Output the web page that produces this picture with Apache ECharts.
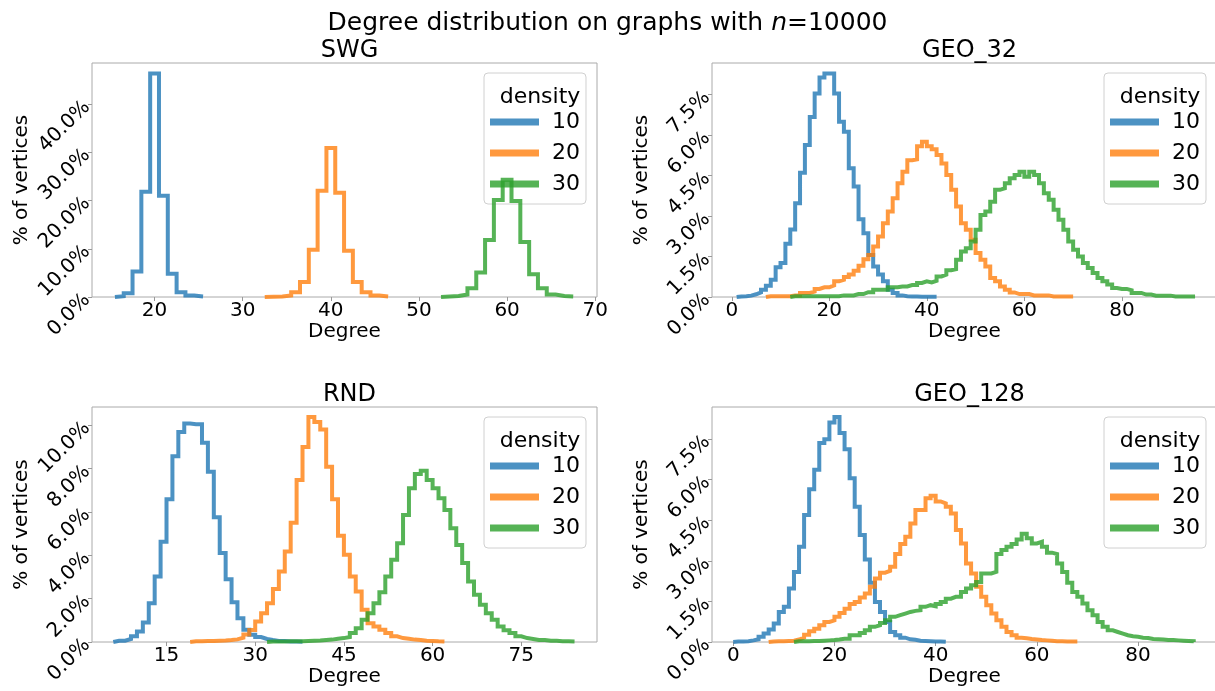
<!DOCTYPE html>
<html>
<head>
<meta charset="utf-8">
<script src="https://cdn.jsdelivr.net/npm/echarts@6/dist/echarts.min.js"></script>
<style>
  html, body { margin: 0; padding: 0; background: #fff; }
  #main { width: 1215px; height: 691px; }
</style>
</head>
<body>
<div id="main"></div>
<script>
const densities = ['10', '20', '30'];
const panelTitles = ['SWG', 'GEO_32', 'RND', 'GEO_128'];

// histogram values in % of vertices, one bin per degree; *Start = left edge of first bin
const swgStart = [15.5, 32.5, 52.5];
const swg10 = [0.15, 0.8, 5.3, 21.8, 46.3, 21.0, 4.8, 1.0, 0.3, 0.1];
const swg20 = [0.05, 0.1, 0.3, 1.0, 3.1, 9.8, 22.0, 30.9, 21.6, 9.6, 3.1, 1.0, 0.3, 0.1];
const swg30 = [0.1, 0.2, 0.5, 1.8, 5.1, 11.8, 20.1, 24.3, 19.9, 11.4, 4.7, 1.8, 0.5, 0.2, 0.1];

const geo32Start = [1, 7, 12];
const geo32_10 = [0.02, 0.03, 0.05, 0.1, 0.17, 0.27, 0.42, 0.64, 1.1, 1.26,
  1.97, 2.5, 3.47, 4.6, 5.63, 6.67, 7.54, 8.13, 8.28, 8.28,
  7.54, 6.49, 6.12, 4.77, 4.09, 2.88, 2.36, 1.56, 1.13, 0.83,
  0.58, 0.27, 0.15, 0.06, 0.03, 0.02, 0.02, 0.01, 0.01, 0.01, 0.01];
const geo32_20 = [0.03, 0.03, 0.03, 0.03, 0.03, 0.06, 0.06, 0.15, 0.15, 0.2,
  0.3, 0.36, 0.36, 0.43, 0.58, 0.64, 0.74, 0.83, 0.97, 1.16,
  1.4, 1.56, 1.87, 2.24, 2.73, 3.17, 3.66, 4.21, 4.64, 5.07,
  5.1, 5.59, 5.75, 5.59, 5.47, 5.26, 4.95, 4.52, 3.97, 3.35,
  2.73, 2.49, 2.12, 1.63, 1.38, 1.13, 0.7, 0.58, 0.39, 0.27,
  0.17, 0.11, 0.11, 0.11, 0.06, 0.06, 0.06, 0.06, 0.02, 0.02, 0.02, 0.02, 0.02];
const geo32_30 = [0.03, 0.03, 0.03, 0.03, 0.03, 0.03, 0.03, 0.03, 0.03, 0.03,
  0.06, 0.06, 0.06, 0.11, 0.11, 0.18, 0.18, 0.27, 0.27, 0.27,
  0.36, 0.36, 0.39, 0.39, 0.44, 0.44, 0.52, 0.58, 0.54, 0.6,
  0.76, 0.83, 0.99, 1.03, 1.38, 1.69, 1.81, 2.06, 2.49, 3.04,
  3.17, 3.53, 3.97, 4.03, 4.21, 4.4, 4.52, 4.64, 4.46, 4.64,
  4.52, 4.21, 3.84, 3.6, 3.23, 2.86, 2.49, 2.06, 1.75, 1.5,
  1.26, 1.07, 0.89, 0.7, 0.58, 0.46, 0.33, 0.3, 0.3, 0.25,
  0.15, 0.15, 0.09, 0.09, 0.05, 0.05, 0.05, 0.05, 0.02, 0.02, 0.02, 0.02, 0.02];

const rndStart = [6, 19, 32];
const rnd10 = [0.06, 0.06, 0.14, 0.26, 0.49, 0.9, 1.79, 3.02, 4.63, 6.58,
  8.57, 9.69, 10.08, 10.05, 10.05, 9.19, 7.85, 5.75, 4.1, 2.9,
  1.83, 1.1, 0.57, 0.34, 0.23, 0.14, 0.09, 0.05, 0.05, 0.02, 0.02, 0.01];
const rnd20 = [0.03, 0.04, 0.05, 0.05, 0.06, 0.07, 0.09, 0.12, 0.2, 0.35,
  0.55, 0.95, 1.33, 1.79, 2.44, 3.25, 4.17, 5.5, 7.47, 9.0,
  10.38, 10.15, 9.8, 8.08, 6.58, 4.9, 4.02, 3.02, 2.33, 1.49,
  0.87, 0.72, 0.57, 0.41, 0.26, 0.18, 0.15, 0.11, 0.09, 0.06, 0.05, 0.03, 0.02];
const rnd30 = [0.02, 0.02, 0.02, 0.03, 0.03, 0.04, 0.05, 0.06, 0.07, 0.09,
  0.11, 0.15, 0.18, 0.23, 0.41, 0.64, 1.03, 1.33, 1.79, 2.3,
  3.02, 3.79, 4.56, 5.86, 7.09, 7.75, 7.9, 7.47, 7.09, 6.63,
  6.09, 5.25, 4.48, 3.64, 2.79, 2.18, 1.72, 1.33, 1.03, 0.72,
  0.54, 0.41, 0.26, 0.18, 0.14, 0.09, 0.09, 0.06, 0.06, 0.04, 0.03, 0.02];

const geo128Start = [0, 7, 12];
const geo128_10 = [0.02, 0.02, 0.03, 0.06, 0.1, 0.19, 0.31, 0.46, 0.68, 1.11,
  1.3, 1.98, 2.59, 3.52, 4.69, 5.64, 6.36, 7.35, 7.49, 8.11,
  8.31, 7.72, 7.12, 6.05, 5.0, 3.95, 3.05, 2.19, 1.48, 1.11,
  0.74, 0.37, 0.25, 0.16, 0.1, 0.08, 0.05, 0.04, 0.03, 0.02, 0.02, 0.01];
const geo128_20 = [0.02, 0.03, 0.03, 0.04, 0.05, 0.09, 0.16, 0.27, 0.4, 0.49,
  0.62, 0.74, 0.8, 0.93, 1.07, 1.23, 1.4, 1.48, 1.64, 1.79,
  2.04, 2.35, 2.56, 2.63, 2.78, 3.25, 3.62, 3.89, 4.38, 4.88,
  4.88, 5.31, 5.4, 5.19, 5.12, 5.0, 4.75, 4.14, 3.64, 2.9,
  2.53, 2.04, 1.67, 1.36, 1.05, 0.8, 0.56, 0.37, 0.25, 0.16,
  0.14, 0.11, 0.09, 0.07, 0.06, 0.05, 0.03, 0.03, 0.02, 0.02, 0.02];
const geo128_30 = [0.03, 0.03, 0.03, 0.04, 0.04, 0.05, 0.06, 0.07, 0.09, 0.12,
  0.12, 0.25, 0.25, 0.33, 0.43, 0.56, 0.62, 0.7, 0.8, 0.93,
  0.99, 1.05, 1.11, 1.15, 1.17, 1.3, 1.36, 1.32, 1.4, 1.48,
  1.6, 1.67, 1.67, 1.85, 1.98, 2.1, 2.22, 2.53, 2.53, 2.59,
  3.25, 3.4, 3.52, 3.62, 3.79, 4.0, 3.83, 3.64, 3.7, 3.52,
  3.3, 3.25, 2.9, 2.59, 2.19, 1.85, 1.67, 1.42, 1.17, 0.99,
  0.74, 0.56, 0.43, 0.37, 0.31, 0.25, 0.21, 0.19, 0.16, 0.15,
  0.11, 0.1, 0.09, 0.07, 0.07, 0.06, 0.05, 0.04, 0.03];

// axis limits and tick values
const xRanges = [[12.9, 70.2], [-4.05, 99.5], [2.4, 87.8], [-4.2, 95.6]];
const yMax = [48.5, 8.67, 10.84, 8.68];
const xTicks = [[20, 30, 40, 50, 60, 70], [0, 20, 40, 60, 80], [15, 30, 45, 60, 75], [0, 20, 40, 60, 80]];
const yTicks = [[0, 10, 20, 30, 40], [0, 1.5, 3, 4.5, 6, 7.5], [0, 2, 4, 6, 8, 10], [0, 1.5, 3, 4.5, 6, 7.5]];

const panelStarts = [swgStart, geo32Start, rndStart, geo128Start];
const panelValues = [[swg10, swg20, swg30], [geo32_10, geo32_20, geo32_30],
  [rnd10, rnd20, rnd30], [geo128_10, geo128_20, geo128_30]];

const colors = ['rgba(31,119,180,0.8)', 'rgba(255,127,14,0.8)', 'rgba(44,160,44,0.8)'];
const font = 'DejaVu Sans';
// [left, top, height] of each plot area
const gridPos = [[92, 63, 234], [712, 63, 234], [92, 407, 235], [712, 407, 235]];

// outline of a step histogram: up at first edge, across each bin, down at last edge
function stepPoints(start, vals) {
  const pts = [[start, 0]];
  vals.forEach((v, i) => pts.push([start + i, v]));
  pts.push([start + vals.length, 0]);
  return pts;
}

const grid = [], xAxis = [], yAxis = [], series = [], legend = [];
const title = [{
  text: 'Degree distribution on graphs with {it|n}=10000',
  left: 'center', top: 6,
  textStyle: { fontFamily: font, fontSize: 25, fontWeight: 'normal', color: '#000',
    rich: { it: { fontFamily: font, fontSize: 25, fontStyle: 'italic', color: '#000' } } },
}];

gridPos.forEach((g, i) => {
  grid.push({ left: g[0], top: g[1], width: 505, height: g[2], show: true,
    borderColor: '#aaaaaa', borderWidth: 1, backgroundColor: 'transparent', outerBoundsMode: 'none' });
  xAxis.push({
    type: 'value', gridIndex: i, min: xRanges[i][0], max: xRanges[i][1],
    name: 'Degree', nameLocation: 'middle', nameGap: 22,
    nameTextStyle: { fontFamily: font, fontSize: 20, color: '#000' },
    axisLine: { show: false, onZero: false },
    axisTick: { show: true, length: 4, customValues: xTicks[i], lineStyle: { color: '#999' } },
    axisLabel: { customValues: xTicks[i], fontFamily: font, fontSize: 20, color: '#000', margin: 4 },
    splitLine: { show: false },
  });
  yAxis.push({
    type: 'value', gridIndex: i, min: 0, max: yMax[i],
    name: '% of vertices', nameLocation: 'middle', nameGap: 60,
    nameTextStyle: { fontFamily: font, fontSize: 20, color: '#000' },
    axisLine: { show: false, onZero: false },
    axisTick: { show: true, length: 4, customValues: yTicks[i], lineStyle: { color: '#999' } },
    axisLabel: { customValues: yTicks[i], rotate: 45, fontFamily: font, fontSize: 20, color: '#000', margin: 5,
      formatter: v => v.toFixed(1) + '%' },
    splitLine: { show: false },
  });
  title.push({
    text: panelTitles[i], left: g[0] + 252.5, top: g[1] - 29, textAlign: 'center',
    textStyle: { fontFamily: font, fontSize: 24, fontWeight: 'normal', color: '#000' },
  });
  const legLeft = g[0] + 392, legTop = g[1] + 10;
  legend.push({
    data: densities, orient: 'vertical', left: legLeft, top: legTop,
    icon: 'rect', itemWidth: 49, itemHeight: 7, itemGap: 9,
    padding: [38, 6, 9, 6],
    backgroundColor: 'rgba(255,255,255,0.8)', borderColor: '#d0d0d0', borderWidth: 1, borderRadius: 4,
    textStyle: { fontFamily: font, fontSize: 22, lineHeight: 22, color: '#000', padding: [0, 0, 0, 8] },
    selectedMode: false,
  });
  title.push({
    text: 'density', left: legLeft + 51, top: legTop + 8, textAlign: 'center', z: 10,
    textStyle: { fontFamily: font, fontSize: 22, fontWeight: 'normal', color: '#000' },
  });
  densities.forEach((d, j) => {
    series.push({
      type: 'line', name: d, xAxisIndex: i, yAxisIndex: i,
      data: stepPoints(panelStarts[i][j], panelValues[i][j]),
      step: 'end', symbol: 'none', showSymbol: false, silent: true,
      color: colors[j],
      lineStyle: { width: 4, color: colors[j], join: 'miter', cap: 'butt' },
      z: 2 + j,
    });
  });
});

const chart = echarts.init(document.getElementById('main'));
chart.setOption({
  animation: false,
  backgroundColor: '#fff',
  textStyle: { fontFamily: font },
  title, grid, xAxis, yAxis, legend, series,
});
</script>
</body>
</html>
